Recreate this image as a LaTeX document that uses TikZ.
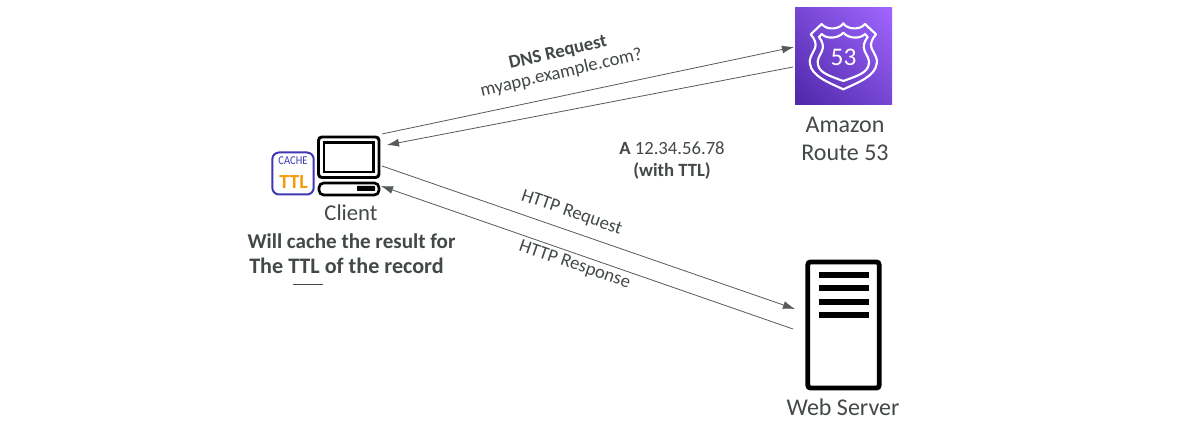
\documentclass[tikz,border=0pt]{standalone}
\usepackage{fontspec}
\setmainfont{Carlito}
\usetikzlibrary{arrows.meta,shadings}
\definecolor{txt}{HTML}{434848}
\definecolor{lin}{HTML}{555A5A}
\definecolor{cachec}{HTML}{3F37B5}
\definecolor{ttlc}{HTML}{F59C0B}
\definecolor{rdark}{HTML}{4D27A8}
\definecolor{rlight}{HTML}{A166FF}
\tikzset{
  px/.style={x=0.75pt,y=-0.75pt},
  lbl/.style={font=\fontsize{18}{20}\selectfont,text=txt,inner sep=0pt,align=center},
  small/.style={font=\fontsize{14}{16}\selectfont,text=txt,inner sep=0pt,align=center},
  smallb/.style={small,font=\fontsize{14}{16}\selectfont\bfseries},
  note/.style={font=\fontsize{15.8}{18}\selectfont\bfseries,text=txt,inner sep=0pt,align=center},
  link/.style={draw=lin,line width=0.6pt,-{Latex[length=9pt,width=6pt]}},
  icon/.style={draw=black,line width=2.2pt,rounded corners=2.5pt},
  shield/.style={draw=white,line width=1.6pt,line join=round}
}
\begin{document}
\begin{tikzpicture}[px]
\useasboundingbox[fill=white] (0,0) rectangle (1189,423);
% Route 53 icon
\shade[lower left=rdark,upper right=rlight,upper left=rdark!50!rlight,lower right=rdark!50!rlight] (795,8) rectangle (892,105);
\begin{scope}[shift={(780,0)},x=0.25pt,y=-0.25pt]
\draw[shield] (190,70) .. controls (200,88) and (240,92) .. (255,72) -- (288,103)
  .. controls (275,118) and (270,132) .. (275,145) .. controls (285,165) and (294,178) .. (290,192)
  .. controls (284,228) and (240,245) .. (190,268)
  .. controls (140,245) and (96,228) .. (90,192) .. controls (86,178) and (95,165) .. (105,145)
  .. controls (110,132) and (105,118) .. (92,103) -- (125,72)
  .. controls (140,92) and (180,88) .. (190,70) -- cycle;
\draw[shield] (190,98) .. controls (205,116) and (240,118) .. (255,102) -- (263,111)
  .. controls (252,125) and (248,140) .. (254,153) .. controls (262,170) and (270,180) .. (266,194)
  .. controls (262,220) and (225,230) .. (190,243)
  .. controls (155,230) and (118,220) .. (114,194) .. controls (110,180) and (118,170) .. (126,153)
  .. controls (132,140) and (128,125) .. (117,111) -- (125,102)
  .. controls (140,118) and (175,116) .. (190,98) -- cycle;
\end{scope}
\node[font=\fontsize{19}{20}\selectfont,text=white,inner sep=0pt] (badge) at (843.5,57) {53};
\node[lbl] (amazon) at (845,125) {Amazon};
\node[lbl] (route) at (845,153) {Route 53};
% Web server
\node[draw=black,line width=3.6pt,rounded corners=2pt,minimum width=53.5pt,minimum height=94.5pt,inner sep=0pt] (web) at (843.5,325) {};
\foreach \yy in {275,288,302,315} \fill[black] (818.5,\yy-2.6) rectangle (869,\yy+2.6);
\node[lbl] (weblabel) at (843,407) {Web Server};
% Client
\draw[icon] (318.5,137) rectangle (379,177.5);
\draw[icon,rounded corners=0pt,line width=1.9pt] (324,142.5) rectangle (373.5,172);
\draw[icon,line width=2pt,rounded corners=3.5pt] (319,183) rectangle (379,195);
\fill[black,rounded corners=0.5pt] (357,186) rectangle (375,191);
\node[draw=cachec,line width=1.5pt,rounded corners=5pt,minimum width=31pt,minimum height=31.5pt,inner sep=0pt] (cache) at (293,173.5) {};
\node[font=\fontsize{9}{10}\selectfont,text=cachec,inner sep=0pt,xscale=0.88] (cachetext) at (293,161) {CACHE};
\node[font=\fontsize{15}{16}\selectfont\bfseries,text=ttlc,inner sep=0pt] (ttltext) at (293.5,182) {TTL};
\node[lbl,font=\fontsize{17}{18}\selectfont] (client) at (351,212.5) {Client};
\node[note] (cachenote) at (351.5,241.5) {Will cache the result for};
\node[note,font=\fontsize{16.6}{18}\selectfont\bfseries] (ttlnote) at (346.5,266) {The TTL of the record};
\coordinate (dashA) at (293,284.5);
\coordinate (dashB) at (323,284.5);
\draw[draw=txt,line width=1.1pt] (dashA) -- (dashB);
% connectors
\coordinate (a1) at (382,134); \coordinate (a2) at (794,47);
\coordinate (b1) at (793,67);  \coordinate (b2) at (387,145);
\coordinate (c1) at (382,166); \coordinate (c2) at (795,309);
\coordinate (d1) at (793,329); \coordinate (d2) at (381,186);
\draw[link] (a1) -- (a2);
\draw[link] (b1) -- (b2);
\draw[link] (c1) -- (c2);
\draw[link] (d1) -- (d2);
% labels
\node[smallb,rotate=13] (dnslabel) at (558,53) {DNS Request};
\node[small,rotate=13] (applabel) at (561.5,73) {myapp.example.com?};
\node[small] (alabel) at (672,148) {\textbf{A} 12.34.56.78};
\node[smallb] (ttllabel) at (672,171) {(with TTL)};
\node[small,rotate=-19] (httpreq) at (571.5,213) {HTTP Request};
\node[small,rotate=-19] (httpresp) at (574.5,265) {HTTP Response};
\end{tikzpicture}
\end{document}
